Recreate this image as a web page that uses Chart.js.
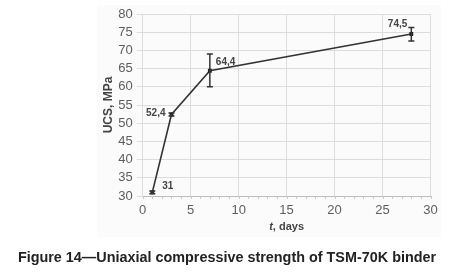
<!DOCTYPE html>
<html>
<head>
<meta charset="utf-8">
<script src="https://cdn.jsdelivr.net/npm/chart.js@4/dist/chart.umd.min.js"></script>
<style>
  html, body { margin: 0; padding: 0; background: #fff; }
  #wrap { position: relative; width: 454px; height: 277px; overflow: hidden; }
  #panel { position: absolute; left: 97px; top: 5px; width: 344px; height: 232px; background: #fbfbfb; }
  #c { position: absolute; left: 0; top: 0; }
  #caption { position: absolute; left: 0; top: 249px; width: 454px; text-align: center;
    font: bold 14.4px "Liberation Sans", Arial, sans-serif; color: #222; white-space: nowrap; }
</style>
</head>
<body>
<div id="wrap">
  <div id="panel"></div>
  <canvas id="c" width="454" height="277"></canvas>
  <div id="caption">Figure 14—Uniaxial compressive strength of TSM-70K binder</div>
</div>
<script>
// ---- data ----
const days = [1, 3, 7, 28];
const ucs = [31, 52.4, 64.4, 74.5];
const errLow = [30.6, 52.0, 60.0, 72.6];
const errHigh = [31.4, 52.8, 69.0, 76.3];
const valueLabels = ['31', '52,4', '64,4', '74,5'];
const xTicks = [0, 5, 10, 15, 20, 25, 30];
const yTicks = [30, 35, 40, 45, 50, 55, 60, 65, 70, 75, 80];

const FONT = '"Liberation Sans", Arial, sans-serif';
// label placement relative to point: [dx, dy, align]
const labelPlace = [[10, -6, 'left'], [-6, -1, 'right'], [6, -9, 'left'], [-4, -10, 'right']];

const overlay = {
  id: 'overlay',
  afterDatasetsDraw(chart) {
    const ctx = chart.ctx;
    const xs = chart.scales.x, ys = chart.scales.y;
    ctx.save();
    // minor ticks on x axis
    ctx.strokeStyle = '#c8c8c8';
    ctx.lineWidth = 1;
    for (let v = xs.min; v <= xs.max; v += 1) {
      const px = Math.round(xs.getPixelForValue(v)) + 0.5;
      ctx.beginPath();
      ctx.moveTo(px, ys.bottom);
      ctx.lineTo(px, ys.bottom + 3);
      ctx.stroke();
    }
    // error bars
    ctx.strokeStyle = '#333';
    ctx.lineWidth = 1.5;
    days.forEach((d, i) => {
      const px = xs.getPixelForValue(d);
      const yl = ys.getPixelForValue(errLow[i]);
      const yh = ys.getPixelForValue(errHigh[i]);
      ctx.beginPath();
      ctx.moveTo(px, yl); ctx.lineTo(px, yh);
      ctx.moveTo(px - 3, yl); ctx.lineTo(px + 3, yl);
      ctx.moveTo(px - 3, yh); ctx.lineTo(px + 3, yh);
      ctx.stroke();
    });
    // value labels
    ctx.fillStyle = '#444';
    ctx.font = 'bold 10px ' + FONT;
    ctx.textBaseline = 'middle';
    days.forEach((d, i) => {
      const px = xs.getPixelForValue(d);
      const py = ys.getPixelForValue(ucs[i]);
      const p = labelPlace[i];
      ctx.textAlign = p[2];
      ctx.fillText(valueLabels[i], px + p[0], py + p[1]);
    });
    // x axis title with italic t
    const cx = (xs.left + xs.right) / 2;
    const ty = 227;
    ctx.fillStyle = '#444';
    ctx.textAlign = 'left';
    ctx.font = 'italic bold 11px ' + FONT;
    const w1 = ctx.measureText('t').width;
    ctx.font = 'bold 11px ' + FONT;
    const w2 = ctx.measureText(', days').width;
    const start = cx - (w1 + w2) / 2;
    ctx.font = 'italic bold 11px ' + FONT;
    ctx.fillText('t', start, ty);
    ctx.font = 'bold 11px ' + FONT;
    ctx.fillText(', days', start + w1, ty);
    ctx.restore();
  }
};

new Chart(document.getElementById('c'), {
  type: 'line',
  data: {
    datasets: [{
      data: days.map((d, i) => ({ x: d, y: ucs[i] })),
      borderColor: '#333',
      borderWidth: 1.6,
      pointStyle: 'rect',
      pointRadius: 1.6,
      pointBackgroundColor: '#222',
      pointBorderColor: '#222',
      tension: 0,
      clip: false
    }]
  },
  plugins: [overlay],
  options: {
    responsive: false,
    animation: false,
    events: [],
    layout: { padding: { left: 97, right: 23.5, top: 14, bottom: 41 } },
    plugins: { legend: { display: false }, tooltip: { enabled: false } },
    scales: {
      x: {
        type: 'linear',
        min: 0, max: 30,
        afterBuildTicks(s) { s.ticks = xTicks.map(v => ({ value: v })); },
        afterFit(s) { s.height = 40; },
        grid: { color: '#dcdcdc', drawTicks: false },
        border: { color: '#bdbdbd' },
        ticks: { autoSkip: false, maxRotation: 0, padding: 7, color: '#5e5e5e', font: { family: FONT, size: 13 } },
        title: { display: false }
      },
      y: {
        min: 30, max: 80,
        afterBuildTicks(s) { s.ticks = yTicks.map(v => ({ value: v })); },
        afterFit(s) { s.width = 45.7; },
        grid: { color: '#dcdcdc', drawTicks: true, tickLength: 6 },
        border: { color: '#dcdcdc' },
        ticks: { autoSkip: false, padding: 4, color: '#5e5e5e', font: { family: FONT, size: 13 } },
        title: { display: true, text: 'UCS, MPa', color: '#444', padding: { top: 4, bottom: 0 },
          font: { family: FONT, size: 12, weight: 'bold' } }
      }
    }
  }
});
</script>
</body>
</html>
